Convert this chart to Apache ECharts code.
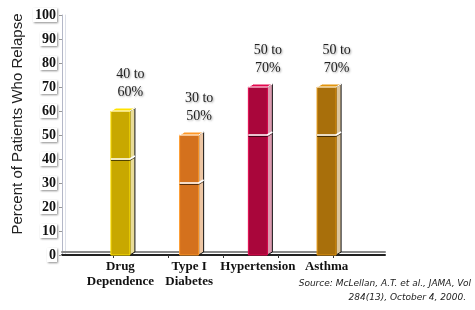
<!DOCTYPE html>
<html>
<head>
<meta charset="utf-8">
<script src="https://cdn.jsdelivr.net/npm/echarts@6/dist/echarts.min.js"></script>
<style>
  html, body { margin: 0; padding: 0; background: #fff; }
  #chart { width: 475px; height: 310px; }
</style>
</head>
<body>
<div id="chart"></div>
<script>
// data
const categories = ['Drug\nDependence', 'Type I\nDiabetes', 'Hypertension', 'Asthma']
const lowValues = [40, 30, 50, 50]
const highValues = [60, 50, 70, 70]
const yAxisTitle = 'Percent of Patients Who Relapse'
const sourceLines = ['Source: McLellan, A.T. et al., JAMA, Vol', '284(13), October 4, 2000.']

const barColors = ['#c8a800', '#d4711d', '#a9063b', '#a86f0b']

const chart = echarts.init(document.getElementById('chart'))

// fake 3d bar: front face, right side, top face, split line at the low value
const renderBar = (params, api) => {
  const i = params.dataIndex
  const x = api.value(0)
  const base = api.coord([x, 0])
  const low = api.coord([x, api.value(1)])
  const top = api.coord([x, api.value(2)])
  const w = 19, d = 5, h = 3
  const x0 = base[0] - w / 2
  const x1 = base[0] + w / 2
  const color = barColors[i]
  const dark = echarts.color.lift(color, 0.6)
  const light = echarts.color.lift(color, -0.35)
  return {
    type: 'group',
    children: [
      {
        type: 'polygon',
        shape: { points: [[x1, top[1]], [x1 + d, top[1] - h], [x1 + d, base[1] - h], [x1, base[1]]] },
        style: { fill: dark, stroke: '#111', lineWidth: 1 }
      },
      {
        type: 'rect',
        shape: { x: x0, y: top[1], width: w, height: base[1] - top[1] },
        style: { fill: color, stroke: light, lineWidth: 1 }
      },
      {
        type: 'polygon',
        shape: { points: [[x0, top[1]], [x0 + d, top[1] - h], [x1 + d, top[1] - h], [x1, top[1]]] },
        style: { fill: light, stroke: '#fff', lineWidth: 1 }
      },
      {
        type: 'polyline',
        shape: { points: [[x0, low[1] + 1.5], [x1, low[1] + 1.5], [x1 + d, low[1] - h + 1.5]] },
        style: { stroke: 'rgba(0,0,0,0.6)', lineWidth: 1, fill: null }
      },
      {
        type: 'polyline',
        shape: { points: [[x0, low[1]], [x1, low[1]], [x1 + d, low[1] - h]] },
        style: { stroke: '#fff', lineWidth: 1.5, fill: null }
      },
      {
        type: 'text',
        x: base[0] + 10,
        y: top[1] - 10,
        style: {
          text: api.value(1) + ' to\n' + api.value(2) + '%',
          align: 'center',
          verticalAlign: 'bottom',
          fontFamily: '"Liberation Serif", serif',
          fontSize: 14,
          lineHeight: 18,
          fill: '#222',
          textShadowColor: 'rgba(0,0,0,0.35)',
          textShadowBlur: 2,
          textShadowOffsetX: 1,
          textShadowOffsetY: 1
        }
      }
    ]
  }
}

const option = {
  animation: false,
  grid: { left: 62, right: 90, top: 15, bottom: 55 },
  xAxis: {
    type: 'value',
    min: 0.15,
    max: 4.85,
    splitLine: { show: false },
    axisLine: {
      show: true,
      lineStyle: { color: '#222', width: 2, shadowColor: '#8a8a8a', shadowOffsetY: -3 }
    },
    axisTick: {
      show: true,
      customValues: [0.9, 1.7, 2.5, 3.3, 4.1],
      length: 3,
      lineStyle: { color: '#333' }
    },
    axisLabel: {
      customValues: [1, 2, 3, 4],
      formatter: (v) => categories[Math.round(v) - 1],
      fontFamily: '"Liberation Serif", serif',
      fontWeight: 'bold',
      fontSize: 13,
      lineHeight: 15,
      color: '#111',
      margin: 4
    }
  },
  yAxis: {
    type: 'value',
    min: 0,
    max: 100,
    interval: 10,
    splitLine: { show: false },
    axisLine: {
      show: true,
      lineStyle: { color: '#b4b8c8', width: 1, shadowColor: '#dde0e8', shadowOffsetX: 3 }
    },
    axisTick: { show: true, length: 3, lineStyle: { color: '#999' } },
    axisLabel: {
      fontFamily: '"Liberation Serif", serif',
      fontWeight: 'bold',
      fontSize: 14,
      color: '#111',
      margin: 5,
      backgroundColor: '#fff',
      padding: [0, 1, 0, 2],
      shadowColor: 'rgba(0,0,0,0.45)',
      shadowBlur: 2,
      shadowOffsetX: 1,
      shadowOffsetY: 1
    }
  },
  graphic: [
    {
      type: 'text',
      x: 18,
      y: 124,
      rotation: Math.PI / 2,
      style: {
        text: yAxisTitle,
        align: 'center',
        verticalAlign: 'middle',
        fontFamily: '"Liberation Sans", Arial, sans-serif',
        fontSize: 15,
        fill: '#222'
      }
    },
    {
      type: 'text',
      x: 471,
      y: 279,
      style: {
        text: sourceLines[0],
        align: 'right',
        fontFamily: '"DejaVu Sans", sans-serif',
        fontStyle: 'italic',
        fontSize: 9,
        fill: '#222'
      }
    },
    {
      type: 'text',
      x: 466,
      y: 293,
      style: {
        text: sourceLines[1],
        align: 'right',
        fontFamily: '"DejaVu Sans", sans-serif',
        fontStyle: 'italic',
        fontSize: 9,
        fill: '#222'
      }
    }
  ],
  series: [
    {
      type: 'custom',
      renderItem: renderBar,
      data: categories.map((c, i) => [i + 1, lowValues[i], highValues[i]])
    }
  ]
}

chart.setOption(option)
</script>
</body>
</html>
